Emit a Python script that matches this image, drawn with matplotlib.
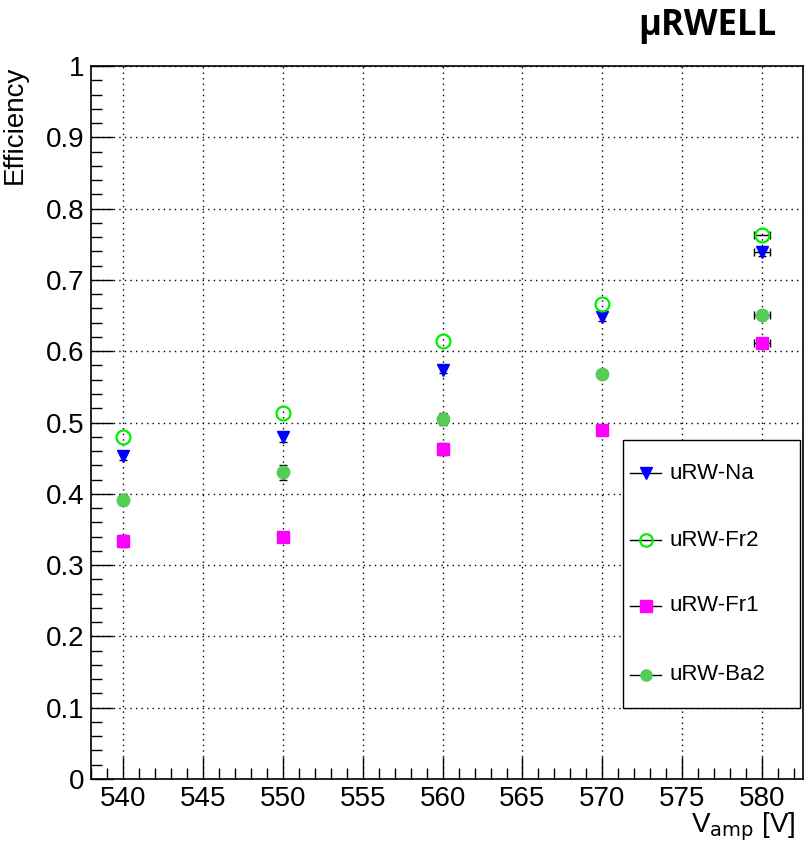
import matplotlib
matplotlib.use("Agg")
import matplotlib.pyplot as plt
from matplotlib.lines import Line2D
from matplotlib.patches import Rectangle
from matplotlib.ticker import MultipleLocator
import numpy as np

plt.rcParams['font.family'] = ['Liberation Sans', 'DejaVu Sans']

voltages = [540, 550, 560, 570, 580]
eff_na = [0.453, 0.479, 0.574, 0.648, 0.739]
eff_fr2 = [0.479, 0.514, 0.615, 0.666, 0.763]
eff_fr1 = [0.334, 0.340, 0.463, 0.490, 0.611]
eff_ba2 = [0.392, 0.430, 0.505, 0.568, 0.651]
x_err = [0.0, 0.0, 0.0, 0.0, 0.5]
yerr_na = [0.006, 0.006, 0.005, 0.005, 0.005]
yerr_fr2 = [0.0, 0.0, 0.0, 0.0, 0.0]
yerr_fr1 = [0.008, 0.006, 0.008, 0.005, 0.005]
yerr_ba2 = [0.008, 0.010, 0.008, 0.005, 0.005]
y_ticks = [0, 0.1, 0.2, 0.3, 0.4, 0.5, 0.6, 0.7, 0.8, 0.9, 1.0]
y_tick_labels = ['0', '0.1', '0.2', '0.3', '0.4', '0.5', '0.6', '0.7', '0.8', '0.9', '1']

series = [
    ("uRW-Na", eff_na, yerr_na, dict(marker='v', mfc='#0000ff', mec='#0000ff', ms=9)),
    ("uRW-Fr2", eff_fr2, yerr_fr2, dict(marker='o', mfc='none', mec='#00ee00', ms=10, mew=1.6)),
    ("uRW-Fr1", eff_fr1, yerr_fr1, dict(marker='s', mfc='#ff00ff', mec='#ff00ff', ms=9)),
    ("uRW-Ba2", eff_ba2, yerr_ba2, dict(marker='o', mfc='#55cc55', mec='#55cc55', ms=9)),
]

fig = plt.figure(figsize=(8.05, 8.44), dpi=100)
ax = fig.add_axes([0.1130, 0.0770, 0.8845, 0.8448])

xv = np.array(voltages, dtype=float)
xe = np.array(x_err)
for name, vals, yerr, st in series:
    v = np.array(vals)
    ye = np.array(yerr)
    mx = xe > 0
    if mx.any():
        ax.errorbar(xv[mx], v[mx], xerr=xe[mx], fmt='none', ecolor='black',
                    elinewidth=1.0, capsize=3, capthick=1.0, zorder=2)
    my = ye > 0
    if my.any():
        ax.errorbar(xv[my], v[my], yerr=ye[my], fmt='none', ecolor='black',
                    elinewidth=1.0, capsize=3, capthick=1.0, zorder=2)
    ax.plot(voltages, vals, linestyle='none', marker=st['marker'], mfc=st['mfc'],
            mec=st['mec'], ms=st['ms'], mew=st.get('mew', 1.0), zorder=3)

ax.set_xlim(538.0, 582.55)
ax.set_ylim(0, 1)
ax.xaxis.set_major_locator(MultipleLocator(5))
ax.xaxis.set_minor_locator(MultipleLocator(1))
ax.yaxis.set_minor_locator(MultipleLocator(0.02))
ax.set_yticks(y_ticks)
ax.set_yticklabels(y_tick_labels)
ax.tick_params(which='both', direction='in', top=False, right=False, labelsize=20)
ax.tick_params(which='major', length=16, width=1.0)
ax.tick_params(which='minor', length=8, width=1.0)
ax.tick_params(axis='x', pad=5)
ax.tick_params(axis='y', pad=5)
ax.grid(True, which='major', color='black', linestyle=(0, (1, 3)), linewidth=1.0)
ax.set_axisbelow(True)
for sp in ax.spines.values():
    sp.set_linewidth(1.2)

ax.set_ylabel('Efficiency', fontsize=20, loc='top')
ax.yaxis.set_label_coords(-0.0885, 1.001)
ax.set_xlabel(r'V$_{\mathrm{amp}}$ [V]', fontsize=20, loc='right')
ax.xaxis.set_label_coords(0.989, -0.044)

# legend box (ROOT TLegend style)
leg_x0, leg_y0, leg_w, leg_h = 0.747, 0.0996, 0.249, 0.376
ax.add_patch(Rectangle((leg_x0, leg_y0), leg_w, leg_h, transform=ax.transAxes,
                       facecolor='white', edgecolor='black', lw=1.0, zorder=5))
entry_y = [0.429, 0.335, 0.243, 0.146]
for (name, vals, yerr, st), ey in zip(series, entry_y):
    ax.add_line(Line2D([0.757, 0.801], [ey, ey], transform=ax.transAxes,
                       color='black', lw=1.0, zorder=6))
    ax.add_line(Line2D([0.779], [ey], transform=ax.transAxes, linestyle='none',
                       marker=st['marker'], mfc=st['mfc'], mec=st['mec'],
                       ms=st['ms'] - 1, mew=st.get('mew', 1.0), zorder=7))
    ax.text(0.812, ey, name, transform=ax.transAxes, fontsize=16,
            ha='left', va='center', zorder=7)

fig.text(0.9652, 1 - 35 / 844, 'µRWELL', fontsize=25, fontweight='bold',
         ha='right', va='baseline', family=['Open Sans', 'DejaVu Sans'])

fig.savefig('out.png', dpi=100)
